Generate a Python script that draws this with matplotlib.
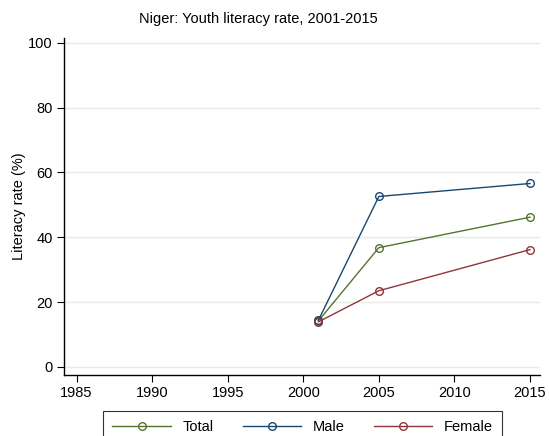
import matplotlib
matplotlib.use("Agg")
import matplotlib.pyplot as plt

plt.rcParams['font.family'] = ['Liberation Sans', 'DejaVu Sans']

years = [2001, 2005, 2015]
total = [14.2, 36.8, 46.2]
male = [14.4, 52.6, 56.6]
female = [13.9, 23.5, 36.2]
series = [("Total", total, "#55752f"), ("Male", male, "#1a476f"), ("Female", female, "#90353b")]
xticks = [1985, 1990, 1995, 2000, 2005, 2010, 2015]
yticks = [0, 20, 40, 60, 80, 100]

fig = plt.figure(figsize=(5.49, 4.36), dpi=100)
ax = fig.add_axes([64/549, 1-375/436, (540-64)/549, (375-38)/436])

for name, vals, col in series:
    ax.plot(years, vals, color=col, lw=1.0, marker='o', ms=5.5, mfc='none', mec=col, mew=1.0, label=name)

ax.set_xlim(1984.17, 2015.66)
ax.set_ylim(-2.5, 101.5)
ax.set_xticks(xticks)
ax.set_yticks(yticks)
ax.yaxis.grid(True, color='#eaeaea', lw=1)
ax.set_axisbelow(True)
for s in ['top', 'right']:
    ax.spines[s].set_visible(False)
for s in ['left', 'bottom']:
    ax.spines[s].set_linewidth(1.0)
ax.tick_params(labelsize=10.5, length=5, width=0.8, pad=3)
ax.set_ylabel("Literacy rate (%)", fontsize=10.5)
ax.yaxis.set_label_coords((26 - 64) / (540 - 64), 0.5)
fig.text(258/549, 1-19/436, "Niger: Youth literacy rate, 2001-2015", ha='center', va='center', fontsize=10.5)

leg = fig.legend(loc='upper left', bbox_to_anchor=(103/549, 1-411/436), ncol=3, fontsize=10.5,
                 frameon=True, fancybox=False, edgecolor='black', handlelength=4.0,
                 columnspacing=2.0, borderpad=0.65, handletextpad=0.8, borderaxespad=0)
leg.get_frame().set_linewidth(0.8)

fig.savefig("out.png", dpi=100)
